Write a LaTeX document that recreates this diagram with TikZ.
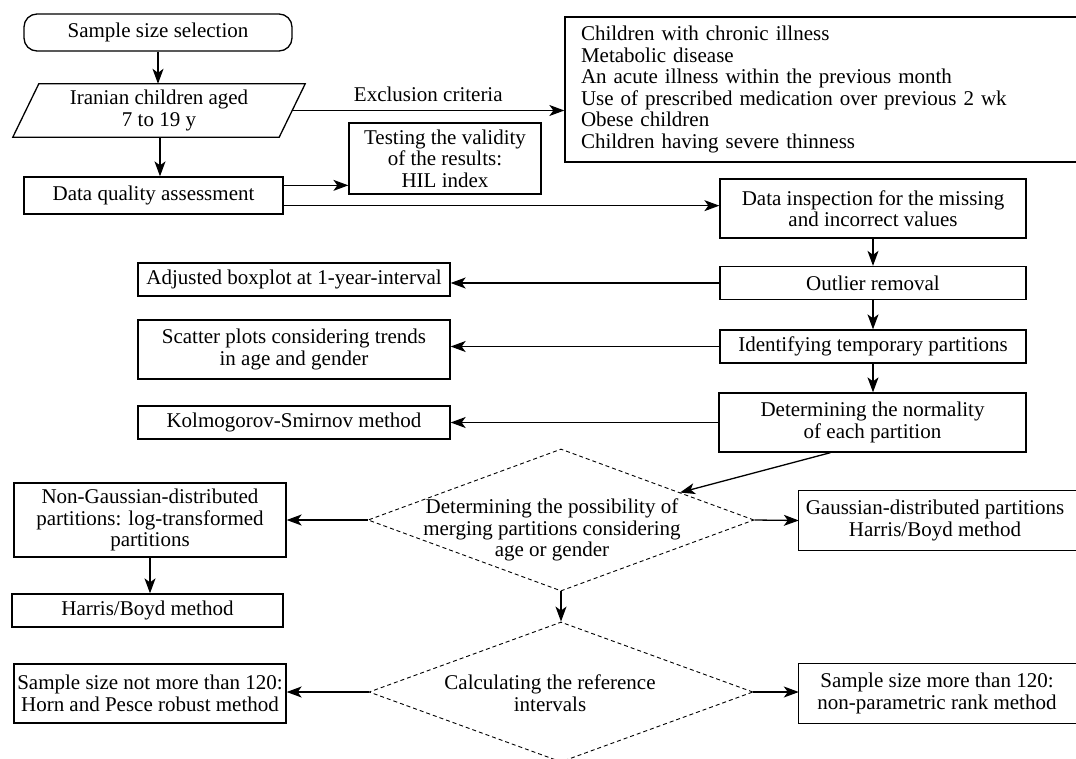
\documentclass[tikz,border=0pt]{standalone}
\usepackage{fontspec}
\setmainfont{Liberation Serif}
\usetikzlibrary{arrows.meta,shapes.geometric,calc}
\begin{document}
\begin{tikzpicture}[x=1pt,y=-1pt,
  every node/.style={font=\fontsize{21}{21.5}\selectfont, inner sep=0pt},
  box/.style={draw, line width=1.3pt, rectangle, align=center},
  txtbox/.style={rectangle, align=center},
  frame/.style={draw, line width=1.3pt},
  arr/.style={line width=1.3pt, -{Stealth[length=15pt,width=11pt,inset=4pt]}},
  diam/.style={draw, diamond, dash pattern=on 4pt off 3pt, line width=0.9pt, inner sep=0pt}
]
\useasboundingbox (0,0) rectangle (1076,758);
\clip (0,0) rectangle (1076,758);

% left column top
\node[box, rounded corners=13pt, minimum width=268, minimum height=37] (start) at (158,32.5) {Sample size selection};
\node[txtbox, minimum width=266, minimum height=53] (iran) at (159,110.5) {Iranian children aged\\7 to 19 y};
\draw[frame] ([xshift=13pt]iran.north west) -- ([xshift=13pt]iran.north east)
  -- ([xshift=-13pt]iran.south east) -- ([xshift=-13pt]iran.south west) -- cycle;
\node[box, minimum width=259, minimum height=37] (dqa) at (153.5,195.5) {Data quality assessment};
\node[box, minimum width=192, minimum height=71] (test) at (445,158.5) {Testing the validity\\of the results:\\HIL index};
\node[draw, line width=1.3pt, rectangle, align=left, text width=503, inner xsep=16pt,
  minimum width=535, minimum height=145] (excl) at (832.5,89.5)
  {Children with chronic illness\\Metabolic disease\\An acute illness within the previous month\\Use of prescribed medication over previous 2 wk\\Obese children\\Children having severe thinness};

% right column
\node[box, minimum width=306, minimum height=59] (insp) at (873,208.5) {Data inspection for the missing\\and incorrect values};
\node[box, minimum width=306, minimum height=33] (outl) at (873,283) {Outlier removal};
\node[box, minimum width=306, minimum height=33] (ident) at (873,346.5) {Identifying temporary partitions};
\node[box, minimum width=307, minimum height=59] (norm) at (872.5,422.5) {Determining the normality\\of each partition};

% middle-left column
\node[box, minimum width=312, minimum height=33] (adj) at (294,279.5) {Adjusted boxplot at 1-year-interval};
\node[box, minimum width=312, minimum height=59] (scat) at (294,349.5) {Scatter plots considering trends\\in age and gender};
\node[box, minimum width=312, minimum height=33] (kolm) at (294,422.5) {Kolmogorov-Smirnov method};

% decisions
\node[diam, minimum width=386, minimum height=142] (d1) at (561,520) {};
\node[txtbox] (d1t) at (552,530) {Determining the possibility of\\merging partitions considering\\age or gender};
\node[diam, minimum width=384, minimum height=140] (d2) at (561,692) {};
\node[txtbox] (d2t) at (550,693) {Calculating the reference\\intervals};

% outcome boxes
\node[box, minimum width=272, minimum height=74] (ng) at (150,520) {Non-Gaussian-distributed\\partitions: log-transformed\\partitions};
\node[box, minimum width=271, minimum height=33] (hb) at (147.5,610.5) {Harris/Boyd method};
\node[txtbox, minimum width=272, minimum height=59] (gauss) at (935,520.5) {Gaussian-distributed partitions\\Harris/Boyd method};
\draw[frame] (gauss.north west) rectangle ([xshift=40pt]gauss.south east);
\node[box, minimum width=272, minimum height=59] (snm) at (150,693.5) {Sample size not more than 120:\\Horn and Pesce robust method};
\node[txtbox, minimum width=276, minimum height=59] (smore) at (937,693.5) {Sample size more than 120:\\non-parametric rank method};
\draw[frame] (smore.north west) rectangle ([xshift=40pt]smore.south east);

% connectors
\draw[arr] (start.south) -- (start.south |- iran.north);
\draw[arr] ([xshift=1pt]iran.south) -- ([xshift=1pt]iran.south |- dqa.north);
\draw[arr] (iran.east) -- node[above, yshift=8pt] {Exclusion criteria} (iran.east -| excl.west);
\draw[arr] ([yshift=-9pt]dqa.north east) -- ([yshift=-9pt]dqa.north east -| test.west);
\draw[arr] ([yshift=9pt]dqa.south east) -- ([yshift=9pt]dqa.south east -| insp.west);
\draw[arr] (insp.south) -- (outl.north);
\draw[arr] (outl.west) -- (outl.west -| adj.east);
\draw[arr] (outl.south) -- (ident.north);
\draw[arr] (ident.west) -- (ident.west -| scat.east);
\draw[arr] (ident.south) -- (ident.south |- norm.north);
\draw[arr] (norm.west) -- (kolm.east);
\draw[arr] ([xshift=-42pt]norm.south) -- (d1.13);
\draw[arr] (d1.west) -- (ng.east);
\draw[arr] (ng.south) -- (ng.south |- hb.north);
\draw[arr] (d1.east) -- (gauss.west);
\draw[arr] (d1.south) -- (d2.north);
\draw[arr] (d2.west) -- (d2.west -| snm.east);
\draw[arr] (d2.east) -- (d2.east -| smore.west);
\end{tikzpicture}
\end{document}
